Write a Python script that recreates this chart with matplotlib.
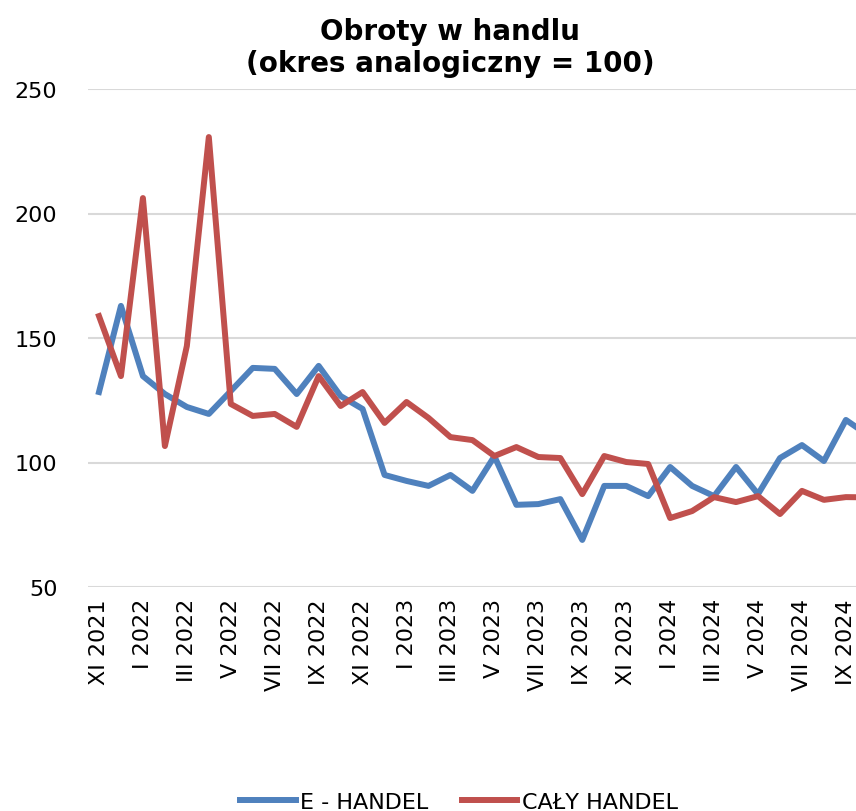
import matplotlib
matplotlib.use("Agg")
import matplotlib.pyplot as plt
import numpy as np

# months XI 2021 .. X 2024
months = ["XI 2021", "XII 2021",
          "I 2022", "II 2022", "III 2022", "IV 2022", "V 2022", "VI 2022",
          "VII 2022", "VIII 2022", "IX 2022", "X 2022", "XI 2022", "XII 2022",
          "I 2023", "II 2023", "III 2023", "IV 2023", "V 2023", "VI 2023",
          "VII 2023", "VIII 2023", "IX 2023", "X 2023", "XI 2023", "XII 2023",
          "I 2024", "II 2024", "III 2024", "IV 2024", "V 2024", "VI 2024",
          "VII 2024", "VIII 2024", "IX 2024", "X 2024"]

e_handel = [128.3, 162.9, 134.7, 127.5, 122.3, 119.5, 128.7, 138.0, 137.6, 127.5,
            138.8, 126.7, 121.5, 95.0, 92.6, 90.6, 95.0, 88.6, 102.5, 83.0,
            83.3, 85.3, 68.9, 90.6, 90.6, 86.5, 98.2, 90.6, 86.5, 98.2,
            87.3, 101.8, 107.0, 100.6, 117.1, 111.0]

caly_handel = [158.8, 134.7, 206.2, 106.6, 146.8, 230.7, 123.5, 118.7, 119.5, 114.3,
               134.7, 122.7, 128.3, 115.9, 124.3, 117.9, 110.2, 109.0, 102.6, 106.2,
               102.2, 101.8, 87.3, 102.6, 100.2, 99.4, 77.7, 80.5, 86.1, 84.1,
               86.5, 79.3, 88.6, 85.0, 86.1, 86.0]

x = np.arange(len(months))

fig = plt.figure(figsize=(8.56, 8.12), dpi=100)
ax = fig.add_axes([88/856, 1-588/812, 1-88/856, (588-90)/812])

ax.plot(x, e_handel, color="#4F81BD", lw=4.3, label="E - HANDEL", solid_joinstyle="round")
ax.plot(x, caly_handel, color="#C0504D", lw=4.3, label="CAŁY HANDEL", solid_joinstyle="round")

ax.set_ylim(50, 250)
ax.set_yticks([50, 100, 150, 200, 250])
ax.set_xlim(-0.5, 34.46)
ax.set_xticks(x[::2])
ax.set_xticklabels(months[::2], rotation=90, va="top", ha="center")
ax.tick_params(axis="both", length=0, labelsize=16)
ax.tick_params(axis="x", pad=8)
ax.tick_params(axis="y", pad=22)
ax.grid(axis="y", color="#D9D9D9", lw=1.5)
ax.set_axisbelow(True)
for s in ax.spines.values():
    s.set_visible(False)

fig.text(450/856, 1-48/812, "Obroty w handlu\n(okres analogiczny = 100)",
         ha="center", va="center", fontsize=20, fontweight="bold", linespacing=1.15)

fig.legend(loc="center", bbox_to_anchor=(459/856, 1-803/812), ncol=2, frameon=False,
           fontsize=16, handlelength=2.5, handletextpad=0.2, columnspacing=1.5)

fig.savefig("out.png", dpi=100)
